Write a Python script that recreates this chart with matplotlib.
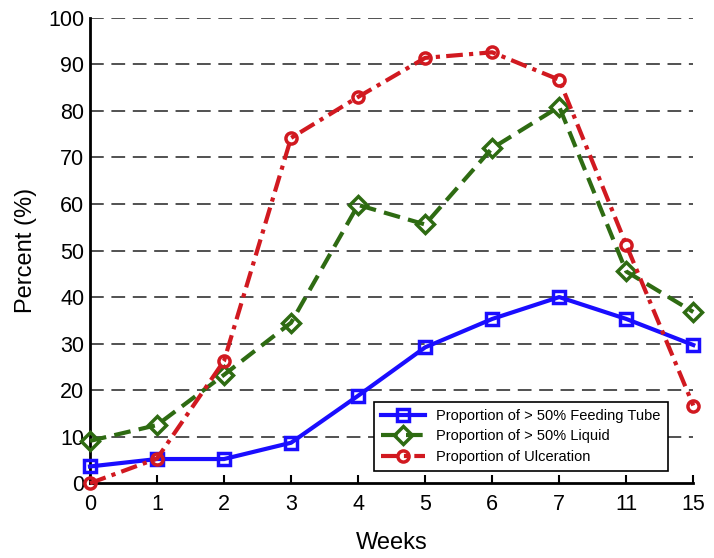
import matplotlib
matplotlib.use("Agg")
import matplotlib.pyplot as plt

weeks = ["0", "1", "2", "3", "4", "5", "6", "7", "11", "15"]
feeding_tube = [3.6, 5.2, 5.2, 8.7, 18.8, 29.2, 35.3, 40.0, 35.3, 29.7]
liquid = [9.1, 12.5, 23.3, 34.5, 59.8, 55.6, 72.0, 80.9, 45.5, 36.8]
ulceration = [0.0, 5.3, 26.3, 74.2, 83.0, 91.4, 92.6, 86.7, 51.2, 16.7]

plt.rcParams["font.family"] = ["Liberation Sans", "DejaVu Sans"]

fig = plt.figure(figsize=(7.14, 5.58), dpi=100)
ax = fig.add_axes([0.126, 0.134, 0.845, 0.834])

x = list(range(len(weeks)))
ax.plot(x, feeding_tube, color="#1a0dff", lw=3, ls="-", marker="s", ms=8,
        mfc="none", mew=2.5, label="Proportion of > 50% Feeding Tube", clip_on=False, zorder=5)
ax.plot(x, liquid, color="#2e6b12", lw=3, ls=(0, (4, 2)), marker="D", ms=9,
        mfc="none", mew=2.5, label="Proportion of > 50% Liquid", clip_on=False, zorder=4)
ax.plot(x, ulceration, color="#d11920", lw=3, ls=(0, (4, 1.5, 1, 1.5)), marker="o", ms=8,
        mfc="none", mew=2.5, label="Proportion of Ulceration", clip_on=False, zorder=6)

ax.set_xlim(0, len(weeks) - 1)
ax.set_ylim(0, 100)
ax.set_xticks(x)
ax.set_xticklabels(weeks)
ax.set_yticks(range(0, 101, 10))
for y in range(10, 101, 10):
    ax.axhline(y, color="#222222", lw=1.1, ls=(0, (9, 5)), zorder=1)

ax.spines["top"].set_visible(False)
ax.spines["right"].set_visible(False)
ax.spines["left"].set_linewidth(2)
ax.spines["bottom"].set_linewidth(2)
ax.tick_params(axis="x", direction="in", length=6, width=1.5, labelsize=15.5, pad=8)
ax.tick_params(axis="y", length=0, labelsize=15.5, pad=4)

ax.set_xlabel("Weeks", fontsize=17, labelpad=12)
ax.set_ylabel("Percent (%)", fontsize=17, labelpad=8)

leg = ax.legend(loc="lower right", bbox_to_anchor=(0.97, 0.01), fontsize=10.5,
                frameon=True, fancybox=False, edgecolor="black", framealpha=1,
                handlelength=3.0, borderpad=0.5, labelspacing=0.45)
leg.get_frame().set_linewidth(1.2)

fig.savefig("out.png", dpi=100)
